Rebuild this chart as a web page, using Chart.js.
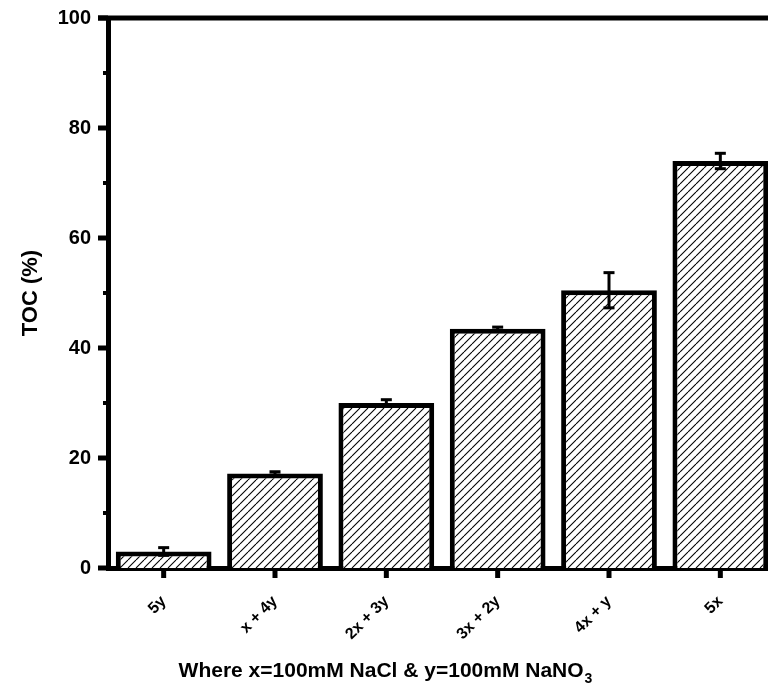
<!DOCTYPE html>
<html>
<head>
<meta charset="utf-8">
<title>TOC (%)</title>
<style>
  html, body { margin: 0; padding: 0; background: #fff; overflow: hidden; }
  #wrap { width: 780px; height: 690px; position: relative; }
</style>
<script src="https://cdn.jsdelivr.net/npm/chart.js@4/dist/chart.umd.min.js"></script>
</head>
<body>
<div id="wrap"><canvas id="toc"></canvas></div>
<script>
  // salt mixtures and measured TOC removal
  const categories = ['5y', 'x + 4y', '2x + 3y', '3x + 2y', '4x + y', '5x'];
  const tocValues  = [3.0, 17.2, 30.0, 43.5, 50.5, 74.0];
  const tocErrors  = [0.7, 0.3, 0.6, 0.3, 3.2, 1.4];
  const yMajorTicks = [0, 20, 40, 60, 80, 100];
  const yMinorTicks = [10, 30, 50, 70, 90];

  const FONT = '"Liberation Sans", Arial, Helvetica, sans-serif';
  const INK = '#000';

  // diagonal "/" hatch used as bar fill
  function makeHatch() {
    const s = 8;
    const tile = document.createElement('canvas');
    tile.width = s; tile.height = s;
    const g = tile.getContext('2d');
    g.fillStyle = '#fff';
    g.fillRect(0, 0, s, s);
    g.strokeStyle = '#000';
    g.lineWidth = 1.1;
    for (const k of [-s, 0, s]) {
      g.beginPath();
      g.moveTo(k, s);
      g.lineTo(k + s, 0);
      g.stroke();
    }
    return g.createPattern(tile, 'repeat');
  }

  // frame top, tick marks, error bars and the x title (with subscript)
  const decorPlugin = {
    id: 'decor',
    afterDatasetsDraw(chart) {
      const { ctx, chartArea: a, scales: { x, y } } = chart;
      ctx.save();
      ctx.fillStyle = INK;
      ctx.strokeStyle = INK;

      // top frame line
      ctx.fillRect(a.left - 10, a.top - 2.5, chart.width, 5);

      // y ticks, outward
      yMajorTicks.forEach(v => {
        const py = y.getPixelForValue(v);
        ctx.fillRect(a.left - 10, py - 2.5, 10, 5);
      });
      yMinorTicks.forEach(v => {
        const py = y.getPixelForValue(v);
        ctx.fillRect(a.left - 5, py - 2, 5, 4);
      });

      // x ticks below the axis
      categories.forEach((c, i) => {
        const px = x.getPixelForValue(i);
        ctx.fillRect(px - 2.5, a.bottom, 5, 10);
      });

      // error bars
      tocValues.forEach((v, i) => {
        const px = x.getPixelForValue(i);
        const hi = y.getPixelForValue(v + tocErrors[i]);
        const lo = y.getPixelForValue(v - tocErrors[i]);
        ctx.lineWidth = 3;
        ctx.beginPath();
        ctx.moveTo(px, hi);
        ctx.lineTo(px, lo);
        ctx.stroke();
        ctx.fillRect(px - 5.5, hi - 1.5, 11, 3);
        ctx.fillRect(px - 5.5, lo - 1.5, 11, 3);
      });

      // x axis title with NO3 subscript
      const main = 'Where x=100mM NaCl & y=100mM NaNO';
      const sub = '3';
      ctx.font = 'bold 21px ' + FONT;
      const w1 = ctx.measureText(main).width;
      ctx.font = 'bold 14px ' + FONT;
      const w2 = ctx.measureText(sub).width;
      const cx = 385;
      const x0 = cx - (w1 + w2) / 2;
      const base = 677;
      ctx.textBaseline = 'alphabetic';
      ctx.textAlign = 'left';
      ctx.font = 'bold 21px ' + FONT;
      ctx.fillText(main, x0, base);
      ctx.font = 'bold 14px ' + FONT;
      ctx.fillText(sub, x0 + w1 + 1, base + 6);
      ctx.restore();
    }
  };

  const ctx = document.getElementById('toc');
  new Chart(ctx, {
    type: 'bar',
    data: {
      labels: categories,
      datasets: [{
        label: 'TOC (%)',
        data: tocValues,
        backgroundColor: makeHatch(),
        borderColor: INK,
        borderWidth: 5,
        borderSkipped: 'bottom',
        barPercentage: 0.86,
        categoryPercentage: 1.0
      }]
    },
    options: {
      responsive: true,
      maintainAspectRatio: false,
      animation: false,
      devicePixelRatio: 1,
      layout: { padding: { top: 18, right: 4, left: 0, bottom: 0 } },
      plugins: {
        legend: { display: false },
        tooltip: { enabled: false }
      },
      scales: {
        x: {
          afterFit: s => { s.height = 122; s.paddingLeft = 0; s.paddingRight = 0; },
          grid: { display: false, drawTicks: false },
          border: { display: true, color: INK, width: 5 },
          ticks: {
            color: INK,
            minRotation: 45, maxRotation: 45,
            padding: 24,
            font: { family: FONT, size: 16, weight: 'bold' }
          }
        },
        y: {
          min: 0, max: 100,
          afterFit: s => { s.width = 108; s.paddingTop = 0; s.paddingBottom = 0; },
          afterBuildTicks: s => { s.ticks = yMajorTicks.map(v => ({ value: v })); },
          grid: { display: false, drawTicks: false },
          border: { display: true, color: INK, width: 5 },
          ticks: {
            color: INK,
            padding: 17,
            font: { family: FONT, size: 20, weight: 'bold' }
          },
          title: {
            display: true,
            text: 'TOC (%)',
            color: INK,
            padding: { top: 18, bottom: 0 },
            font: { family: FONT, size: 22, weight: 'bold' }
          }
        }
      }
    },
    plugins: [decorPlugin]
  });
</script>
</body>
</html>
